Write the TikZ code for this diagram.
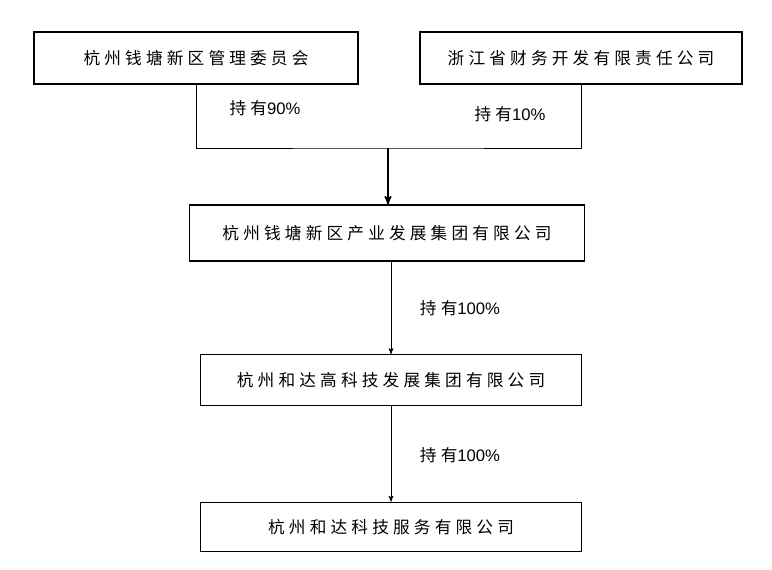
\documentclass[tikz,border=0pt]{standalone}
\usepackage{fontspec}
\setmainfont{Liberation Sans}
\newfontfamily\cjk[LetterSpace=25]{Noto Sans CJK SC}
\usetikzlibrary{arrows,positioning}
\tikzstyle{topbox}=[rectangle,draw=black,line width=1.5pt,inner sep=0pt,
  font=\cjk\fontsize{12.5}{14}\selectfont]
\tikzstyle{company}=[rectangle,draw=black,line width=1pt,inner sep=0pt,
  font=\cjk\fontsize{12.5}{14}\selectfont]
\tikzstyle{share}=[font=\fontsize{12.5}{14}\selectfont]
\tikzstyle{line}=[black,line width=.6pt]

\begin{document}
\begin{tikzpicture}[x=0.75pt,y=-0.75pt,>=stealth']
  \useasboundingbox (0,0) rectangle (772,570);

	\node[topbox,minimum width=243pt,minimum height=39pt] (gov) at (196,58) {杭州钱塘新区管理委员会};
	\node[topbox,minimum width=241pt,minimum height=39pt] (fin) at (581,58) {浙江省财务开发有限责任公司};
	\node[company,minimum width=296pt,minimum height=42pt] (grp) at (387,233) {杭州钱塘新区产业发展集团有限公司};
	\node[company,minimum width=286pt,minimum height=38pt] (hd) at (391,380) {杭州和达高科技发展集团有限公司};
	\node[company,minimum width=286pt,minimum height=37pt] (svc) at (391,527) {杭州和达科技服务有限公司};

	\coordinate (join) at (388,148);
	\draw[line] (gov.south) |- (join) -| (fin.south);
	\draw[line,line width=1.2pt,->] (join) -- (join |- grp.north);
	\draw[line,->] (grp.south -| hd.north) -- (hd.north);
	\draw[line,->] (hd.south) -- (svc.north);

	\node[share] (p1) at (265,108) {{\cjk 持有}90\%};
	\node[share] (p2) at (510,114) {{\cjk 持有}10\%};
	\node[share] (p3) at (460,308) {{\cjk 持有}100\%};
	\node[share] (p4) at (460,455) {{\cjk 持有}100\%};
\end{tikzpicture}
\end{document}
